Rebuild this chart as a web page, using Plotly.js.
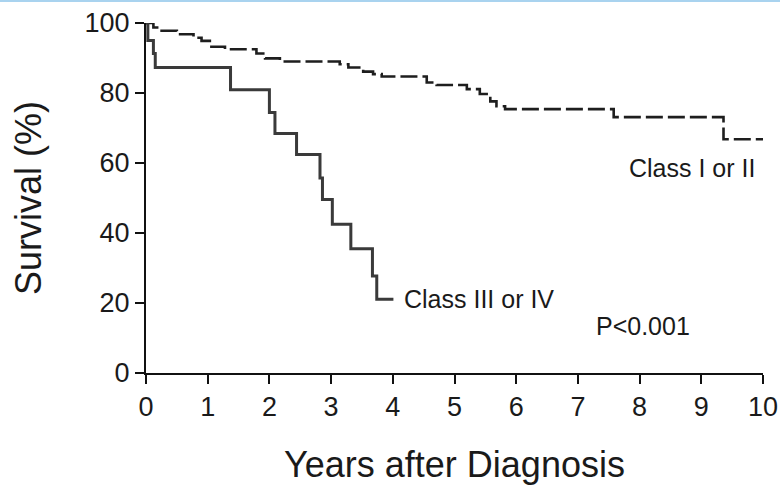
<!DOCTYPE html>
<html>
<head>
<meta charset="utf-8">
<script src="https://cdn.plot.ly/plotly-3.0.1.min.js"></script>
<style>
  html, body { margin: 0; padding: 0; background: #ffffff; }
  #chart { width: 780px; height: 491px; }
</style>
</head>
<body>
<div id="chart"></div>
<script>
// Kaplan-Meier survival by functional class (years after diagnosis, % surviving)
const classLowYears = [0, 0.12, 0.23, 0.50, 0.77, 0.90, 1.06, 1.28, 1.79, 1.93, 2.17, 3.14, 3.28, 3.52, 3.68, 3.82, 4.55, 4.71, 5.20, 5.41, 5.58, 5.68, 5.82, 7.58, 9.36, 10.0];
const classLowSurvival = [100, 98.7, 97.8, 96.8, 95.8, 94.9, 93.2, 92.5, 91.3, 89.9, 89.0, 88.2, 87.3, 86.1, 85.4, 84.7, 83.0, 82.3, 81.1, 79.7, 77.6, 76.2, 75.4, 73.1, 66.8, 66.8];

const classHighYears = [0, 0.03, 0.12, 0.15, 1.37, 2.00, 2.09, 2.44, 2.82, 2.86, 3.02, 3.32, 3.67, 3.74, 4.01];
const classHighSurvival = [100, 95, 91.3, 87.3, 80.9, 74.4, 68.4, 62.4, 55.7, 49.6, 42.5, 35.5, 27.7, 21.1, 21.1];

const xTicks = [0, 1, 2, 3, 4, 5, 6, 7, 8, 9, 10];
const yTicks = [0, 20, 40, 60, 80, 100];

const seriesLabels = ["Class I or II", "Class III or IV"];
const pValueText = "P&lt;0.001";

const FONT = "Arial, 'Liberation Sans', Helvetica, sans-serif";
const INK = "#1a1a1a";

const traces = [
  {
    x: classLowYears, y: classLowSurvival, name: seriesLabels[0],
    type: "scatter", mode: "lines",
    line: { shape: "hv", color: "#1e1e1e", width: 2.6, dash: "17px,5px" }
  },
  {
    x: classHighYears, y: classHighSurvival, name: seriesLabels[1],
    type: "scatter", mode: "lines",
    line: { shape: "hv", color: "#3a3a3a", width: 3 }
  }
];

const lastLow = classLowSurvival[classLowSurvival.length - 1];
const lastHigh = classHighSurvival[classHighSurvival.length - 1];

const layout = {
  width: 780, height: 491,
  margin: { l: 146, r: 17, t: 23, b: 118 },
  paper_bgcolor: "#ffffff", plot_bgcolor: "#ffffff",
  showlegend: false,
  font: { family: FONT, color: INK },
  xaxis: {
    range: [0, 10], tickvals: xTicks, ticktext: xTicks.map(String),
    showgrid: false, zeroline: false,
    showline: true, linecolor: "#111111", linewidth: 2,
    ticks: "outside", ticklen: 9, tickwidth: 2, tickcolor: "#111111",
    tickfont: { size: 27, family: FONT, color: INK },
    title: { text: "Years after Diagnosis", font: { size: 36, family: FONT, color: INK }, standoff: 30 }
  },
  yaxis: {
    range: [0, 100], tickvals: yTicks, ticktext: yTicks.map(String),
    showgrid: false, zeroline: false,
    showline: true, linecolor: "#111111", linewidth: 2,
    ticks: "outside", ticklen: 9, tickwidth: 2, tickcolor: "#111111",
    tickfont: { size: 27, family: FONT, color: INK },
    title: { text: "Survival (%)", font: { size: 36, family: FONT, color: INK }, standoff: 32 }
  },
  annotations: [
    { x: 7.80, y: lastLow - 8.1, xref: "x", yref: "y", xanchor: "left", yanchor: "middle",
      text: seriesLabels[0], showarrow: false, font: { size: 25, family: FONT, color: INK } },
    { x: 4.15, y: lastHigh, xref: "x", yref: "y", xanchor: "left", yanchor: "middle",
      text: seriesLabels[1], showarrow: false, font: { size: 25, family: FONT, color: INK } },
    { x: 7.26, y: 13.4, xref: "x", yref: "y", xanchor: "left", yanchor: "middle",
      text: pValueText, showarrow: false, font: { size: 25, family: FONT, color: INK } }
  ],
  shapes: [
    { type: "line", xref: "paper", yref: "paper",
      x0: -146 / 617, x1: 1 + 17 / 617, y0: 1 + 22 / 350, y1: 1 + 22 / 350,
      line: { color: "#a9d3ef", width: 2 } }
  ]
};

Plotly.newPlot("chart", traces, layout, { staticPlot: true, displayModeBar: false });
</script>
</body>
</html>
